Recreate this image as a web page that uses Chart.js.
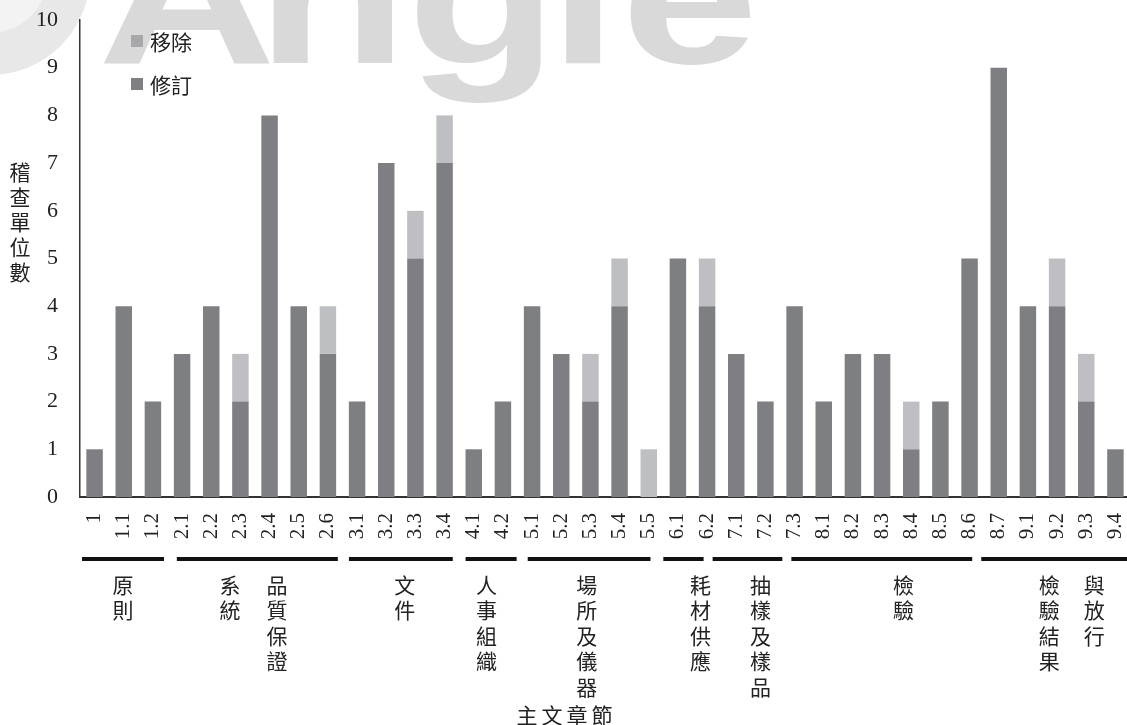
<!DOCTYPE html>
<html>
<head>
<meta charset="utf-8">
<script src="https://cdn.jsdelivr.net/npm/chart.js@4/dist/chart.umd.min.js"></script>
<style>
  body { margin: 0; background: #fff; overflow: hidden; }
</style>
</head>
<body>
<canvas id="myChart" width="1130" height="725"></canvas>
<script>
// chapters on the x axis
const sections = ['1', '1.1', '1.2', '2.1', '2.2', '2.3', '2.4', '2.5', '2.6',
  '3.1', '3.2', '3.3', '3.4', '4.1', '4.2', '5.1', '5.2', '5.3', '5.4', '5.5',
  '6.1', '6.2', '7.1', '7.2', '7.3', '8.1', '8.2', '8.3', '8.4', '8.5', '8.6', '8.7',
  '9.1', '9.2', '9.3', '9.4']

const revised = [1, 4, 2, 3, 4, 2, 8, 4, 3, 2, 7, 5, 7, 1, 2, 4, 3, 2, 4, 0,
  5, 4, 3, 2, 4, 2, 3, 3, 1, 2, 5, 9, 4, 4, 2, 1]
const removed = [0, 0, 0, 0, 0, 1, 0, 0, 1, 0, 0, 1, 1, 0, 0, 0, 0, 1, 1, 1,
  0, 1, 0, 0, 0, 0, 0, 0, 1, 0, 0, 0, 0, 1, 1, 0]

const yTicks = [0, 1, 2, 3, 4, 5, 6, 7, 8, 9, 10]

// chapter groups under the axis, columns from left to right
const groupNames = [['原則'], ['系統', '品質保證'], ['文件'], ['人事組織'], ['場所及儀器'],
  ['耗材供應'], ['抽樣及樣品'], ['檢驗'], ['檢驗結果', '與放行']]
// where the rules and text columns sit, in category index units
const groupRules = [[-0.43, 2.38], [2.82, 8.34], [8.72, 12.28], [12.72, 14.47], [14.85, 19.06],
  [19.5, 20.88], [21.19, 23.58], [23.89, 30.09], [30.4, 35.6]]
const groupTextAt = [[0.97], [4.64, 6.25], [10.63], [13.44], [16.87], [20.77], [22.83], [27.73], [32.73, 34.27]]

const yTitle = '稽查單位數'
const xTitle = '主文章節'

const DARK = '#7e7f83'
const LIGHT = '#bebfc2'
const CJK = '"Noto Sans CJK TC", "Noto Sans CJK SC", sans-serif'

const annotate = {
  id: 'annotate',
  beforeDraw(chart) {
    const ctx = chart.ctx
    ctx.save()
    ctx.fillStyle = '#fff'
    ctx.fillRect(0, 0, chart.width, chart.height)
    // faded watermark behind the chart
    ctx.fillStyle = '#e8e8e8'
    ctx.beginPath(); ctx.arc(-10, -25, 100, 0, Math.PI * 2); ctx.fill()
    ctx.fillStyle = '#f3f3f3'
    ctx.beginPath(); ctx.arc(-10, -25, 58, 0, Math.PI * 2); ctx.fill()
    ctx.fillStyle = '#d9d9d9'
    ctx.font = 'bold 190px "Liberation Sans"'
    ctx.textAlign = 'left'
    ctx.textBaseline = 'alphabetic'
    const wm = [['A', 103], ['n', 272], ['g', 416], ['i', 566], ['e', 630]]
    wm.forEach(([ch, left]) => {
      const m = ctx.measureText(ch)
      ctx.save()
      ctx.translate(left, 63)
      ctx.scale(1.3, 1)
      ctx.fillText(ch, m.actualBoundingBoxLeft, 0)
      ctx.restore()
    })
    ctx.restore()
  },
  afterDraw(chart) {
    const ctx = chart.ctx
    const x = chart.scales.x
    ctx.save()
    ctx.fillStyle = '#222'
    ctx.textAlign = 'center'
    ctx.textBaseline = 'middle'

    // legend, top item is the stacked top series
    const items = [{ label: chart.data.datasets[1].label, color: '#a8a8aa', y: 41 },
      { label: chart.data.datasets[0].label, color: DARK, y: 84 }]
    ctx.font = '21px ' + CJK
    items.forEach(it => {
      ctx.fillStyle = it.color
      ctx.fillRect(131, it.y - 6, 12, 12)
      ctx.fillStyle = '#222'
      ctx.textAlign = 'left'
      ctx.fillText(it.label, 150, it.y + 1)
    })

    // y title, stacked characters
    ctx.textAlign = 'center'
    ;[...yTitle].forEach((ch, i) => ctx.fillText(ch, 20, 172 + i * 25))

    // group rules and vertical labels
    groupNames.forEach((cols, g) => {
      const [a, b] = groupRules[g]
      ctx.fillStyle = '#111'
      const x0 = x.getPixelForValue(a), x1 = x.getPixelForValue(b)
      ctx.fillRect(x0, 557, x1 - x0, 4)
      ctx.fillStyle = '#222'
      cols.forEach((txt, c) => {
        const cx = x.getPixelForValue(groupTextAt[g][c])
        ;[...txt].forEach((ch, i) => ctx.fillText(ch, cx, 585 + i * 25.5))
      })
    })

    // x title
    ;[...xTitle].forEach((ch, i) => ctx.fillText(ch, 527 + i * 25, 715))
    ctx.restore()
  }
}

const ctx = document.getElementById('myChart').getContext('2d')
const myChart = new Chart(ctx, {
  type: 'bar',
  data: {
    labels: sections,
    datasets: [{
      label: '修訂',
      data: revised,
      backgroundColor: DARK,
      barPercentage: 0.565,
      categoryPercentage: 1
    }, {
      label: '移除',
      data: removed,
      backgroundColor: LIGHT,
      barPercentage: 0.565,
      categoryPercentage: 1
    }]
  },
  options: {
    responsive: false,
    animation: false,
    layout: { padding: { top: 20, left: 0, right: 0, bottom: 0 } },
    plugins: {
      legend: { display: false },
      tooltip: { enabled: false }
    },
    scales: {
      x: {
        stacked: true,
        grid: { display: false, drawTicks: false },
        border: { display: true, color: '#333', width: 2 },
        ticks: {
          color: '#222',
          font: { family: '"Liberation Serif", "Times New Roman", serif', size: 21 },
          minRotation: 90,
          maxRotation: 90,
          autoSkip: false,
          padding: 16
        },
        afterFit(s) {
          s.height = 228
          s.paddingLeft = 0
          s.paddingRight = 0
        }
      },
      y: {
        stacked: true,
        min: 0,
        max: 10,
        afterBuildTicks(s) {
          s.ticks = yTicks.map(v => ({ value: v }))
        },
        grid: { display: false, drawTicks: false },
        border: { display: true, color: '#333', width: 1.5 },
        ticks: {
          color: '#222',
          font: { family: '"Liberation Serif", "Times New Roman", serif', size: 22 },
          padding: 22
        },
        afterFit(s) {
          s.width = 80
          s.paddingTop = 0
          s.paddingBottom = 0
        }
      }
    }
  },
  plugins: [annotate]
})
</script>
</body>
</html>
